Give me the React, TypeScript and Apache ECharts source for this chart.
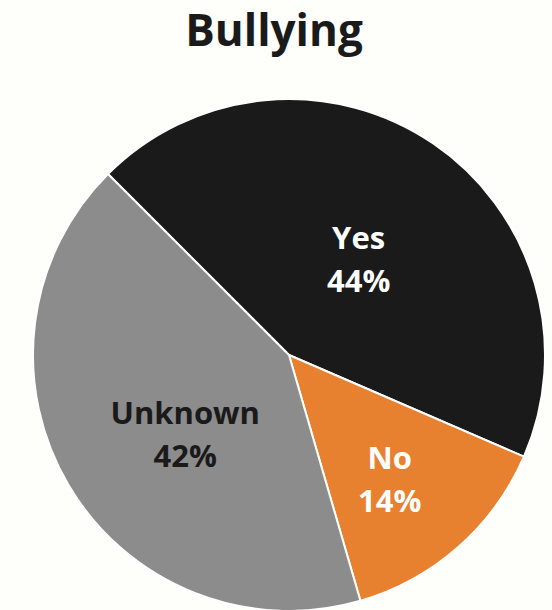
import React, { useEffect, useRef } from "react";
import * as echarts from "echarts";

const categories = ["Yes", "No", "Unknown"];
const values = [44, 14, 42];
const colors = ["#1a1a1a", "#e8812f", "#8c8c8c"];
const labelColors = ["#ffffff", "#ffffff", "#1a1a1a"];
const labelOffsets = [[-4, 12], [14, 25], [9, 12]];

export default function App() {
  const ref = useRef<HTMLDivElement>(null);
  useEffect(() => {
    const chart = echarts.init(ref.current!, null, { renderer: "svg" });
    chart.setOption({
      animation: false,
      backgroundColor: "#fefefb",
      title: {
        text: "Bullying",
        left: 269,
        top: 2,
        textAlign: "center",
        textStyle: {
          fontFamily: "Open Sans",
          fontWeight: "bold",
          fontSize: 44,
          color: "#1a1a1a",
        },
      },
      series: [
        {
          type: "pie",
          center: [289, 355],
          radius: 256,
          startAngle: 135,
          clockwise: true,
          label: {
            show: true,
            position: "inside",
            formatter: (p: any) => `${p.name}\n${p.value}%`,
            fontFamily: "Open Sans",
            fontWeight: "bold",
            fontSize: 31,
            lineHeight: 43,
          },
          labelLine: { show: false },
          itemStyle: { borderColor: "#ffffff", borderWidth: 2 },
          emphasis: { disabled: true },
          data: categories.map((c, i) => ({
            name: c,
            value: values[i],
            itemStyle: { color: colors[i] },
            label: { color: labelColors[i], offset: labelOffsets[i] },
          })),
        },
      ],
    });
    return () => chart.dispose();
  }, []);
  return (
    <div
      ref={ref}
      style={{ position: "fixed", left: 0, top: 0, width: 552, height: 610 }}
    />
  );
}
